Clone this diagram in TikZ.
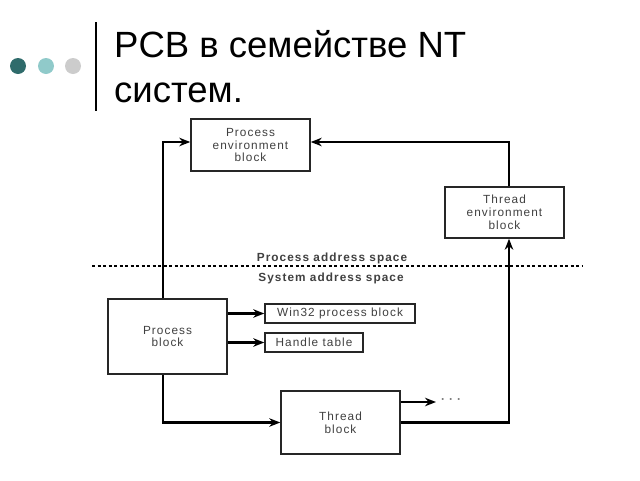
\documentclass[tikz,border=0pt]{standalone}
\usepackage{fontspec}
\setmainfont{Liberation Sans}
\newfontfamily\diagfont[LetterSpace=9]{Liberation Sans}
\usetikzlibrary{arrows.meta}
\definecolor{dotdark}{HTML}{2F6B6B}
\definecolor{dotlight}{HTML}{90CACA}
\definecolor{dotgray}{HTML}{CCCCCC}
\definecolor{txtgray}{HTML}{404040}
\tikzset{
  blk/.style={draw=black!85, line width=1.5pt, fill=white, inner sep=0pt,
    font=\diagfont\fontsize{11.8}{12.8}\selectfont, text=txtgray, align=center},
  conn/.style={line width=2.6pt, draw=black},
  arr/.style={-{Stealth[length=11pt,width=8.5pt]}},
  lbl/.style={font=\diagfont\bfseries\fontsize{11.8}{13}\selectfont, text=txtgray, inner sep=0pt},
  ttl/.style={font=\fontsize{36.5}{45}\selectfont, anchor=base west, inner sep=0pt},
  dotc/.style={circle, minimum size=16pt, inner sep=0pt}
}
\begin{document}
\begin{tikzpicture}[x=1pt,y=-1pt]
\useasboundingbox (0,0) rectangle (640,480);
% title decoration
\node[dotc, fill=dotdark] (d1) at (18,66) {};
\node[dotc, fill=dotlight] (d2) at (46,66) {};
\node[dotc, fill=dotgray] (d3) at (73,66) {};
\coordinate (bt) at (96,22);
\coordinate (bb) at (96,111);
\draw[line width=2.8pt] (bt) -- (bb);
\node[ttl] (t1) at (114,57) {PCB в семействе NT};
\node[ttl] (t2) at (114,102) {систем.};
% boxes
\node[blk, minimum width=119pt, minimum height=52pt] (peb) at (250.5,145) {Process\\environment\\block};
\node[blk, minimum width=119pt, minimum height=51pt] (teb) at (504.5,212.5) {Thread\\environment\\block};
\node[blk, minimum width=119pt, minimum height=75pt] (pb) at (167.5,336.5) {Process\\block};
\node[blk, minimum width=150pt, minimum height=19pt] (w32) at (340,313.5) {Win32 process block};
\node[blk, minimum width=98pt, minimum height=19pt] (ht) at (314,342.5) {Handle table};
\node[blk, minimum width=119pt, minimum height=63pt] (tb) at (340.5,422.5) {Thread\\block};
% separator
\coordinate (sl) at (92,266);
\coordinate (sr) at (583,266);
\draw[line width=1.1pt, dash pattern=on 3pt off 2.5pt] (sl) -- (sr);
\node[lbl] (pas) at (332,258.5) {Process address space};
\node[lbl] (sas) at (331,278) {System address space};
% connectors
\draw[conn,arr] ([xshift=-4.5pt]pb.north) |- ([yshift=3pt]peb.west);
\draw[conn,arr] ([xshift=4.5pt]teb.north) |- ([yshift=3pt]peb.east);
\draw[conn,arr] (pb.east |- w32) -- (w32.west);
\draw[conn,arr] (pb.east |- ht) -- (ht.west);
\draw[conn,arr] ([xshift=-4.5pt]pb.south) |- (tb.west);
\coordinate (more) at (436,402);
\draw[conn,arr] ([yshift=20.5pt]tb.east) -- (more);
\node[font=\bfseries\fontsize{12}{13}\selectfont, text=black!55, anchor=west, inner sep=0pt] (dots) at (441,401) {·\hspace{4pt}·\hspace{4pt}·};
\draw[conn,arr] (tb.east) -| ([xshift=4.5pt]teb.south);
\end{tikzpicture}
\end{document}
